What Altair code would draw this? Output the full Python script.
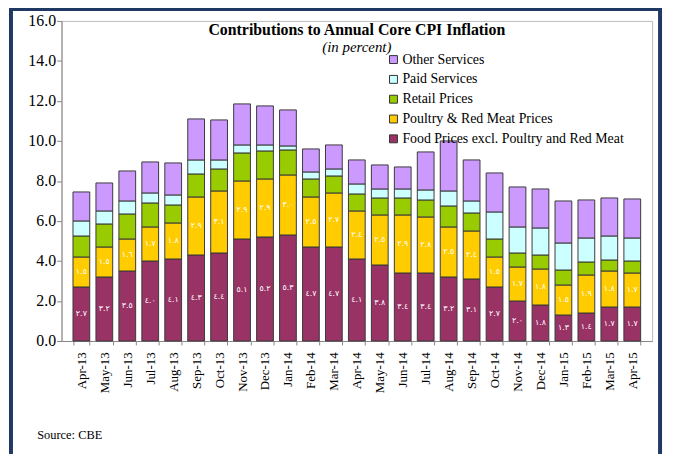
import altair as alt
import pandas as pd

months = ["Apr-13", "May-13", "Jun-13", "Jul-13", "Aug-13", "Sep-13", "Oct-13", "Nov-13",
          "Dec-13", "Jan-14", "Feb-14", "Mar-14", "Apr-14", "May-14", "Jun-14", "Jul-14",
          "Aug-14", "Sep-14", "Oct-14", "Nov-14", "Dec-14", "Jan-15", "Feb-15", "Mar-15", "Apr-15"]

food = [2.7, 3.2, 3.5, 4.0, 4.1, 4.3, 4.4, 5.1, 5.2, 5.3, 4.7, 4.7, 4.1, 3.8, 3.4, 3.4,
        3.2, 3.1, 2.7, 2.0, 1.8, 1.3, 1.4, 1.7, 1.7]
poultry = [1.5, 1.5, 1.6, 1.7, 1.8, 2.9, 3.1, 2.9, 2.9, 3.0, 2.5, 2.7, 2.4, 2.5, 2.9, 2.8,
           2.5, 2.4, 1.5, 1.7, 1.8, 1.5, 1.9, 1.8, 1.7]
retail = [1.05, 1.15, 1.25, 1.2, 0.9, 1.15, 1.1, 1.4, 1.4, 1.25, 0.9, 0.85, 0.85, 0.85, 0.85,
          0.85, 1.05, 0.9, 0.9, 0.7, 0.7, 0.75, 0.65, 0.55, 0.6]
paid = [0.75, 0.65, 0.65, 0.5, 0.5, 0.7, 0.45, 0.4, 0.3, 0.2, 0.35, 0.35, 0.5, 0.45, 0.45,
        0.5, 0.75, 0.6, 1.35, 1.3, 1.35, 1.35, 1.2, 1.2, 1.15]
other = [1.45, 1.4, 1.5, 1.55, 1.6, 2.05, 2.0, 2.05, 1.95, 1.8, 1.15, 1.2, 1.2, 1.2, 1.1,
         1.9, 2.5, 2.05, 1.95, 2.0, 1.95, 2.1, 1.9, 1.9, 1.95]

series_names = ["Food Prices excl. Poultry and Red Meat", "Poultry & Red Meat Prices",
                "Retail Prices", "Paid Services", "Other Services"]
series_values = [food, poultry, retail, paid, other]
series_colors = ["#993366", "#FFCC00", "#99CC00", "#CCFFFF", "#CC99FF"]
labelled_series = ["Food Prices excl. Poultry and Red Meat", "Poultry & Red Meat Prices"]

arabic_digits = str.maketrans("0123456789", "٠١٢٣٤٥٦٧٨٩")

rows = []
for k, (name, vals) in enumerate(zip(series_names, series_values)):
    for m, v in zip(months, vals):
        rows.append({"month": m, "series": name, "value": v, "order": k,
                     "label": f"{v:.1f}".translate(arabic_digits),
                     "show": name in labelled_series})
df = pd.DataFrame(rows)

serif = "Liberation Serif"
W, H = 596, 323

x_enc = alt.X("month:N", sort=months, scale=alt.Scale(paddingInner=0.27, paddingOuter=0.5),
              axis=alt.Axis(title="Source: CBE", titleFont=serif, titleFontSize=12.5,
                            titleFontWeight="normal", titleAnchor="start", titleAlign="left",
                            titleX=-25, titleY=98, titleBaseline="alphabetic",
                            labelAngle=270, labelFont=serif, labelFontSize=13,
                            labelColor="#000", labelPadding=7, tickBand="extent",
                            tickColor="#888", domainColor="#888", tickSize=4))

stacked = alt.Chart(df).transform_stack(
    stack="value", groupby=["month"],
    sort=[alt.SortField(field="order", order="ascending")], as_=["y0", "y1"])

bars = stacked.mark_bar(stroke="#3a3a3a", strokeWidth=1).encode(
    x=x_enc,
    y=alt.Y("y0:Q", scale=alt.Scale(domain=[0, 16], nice=False),
            axis=alt.Axis(values=[0, 2, 4, 6, 8, 10, 12, 14, 16], format=".1f", title=None,
                          labelFont=serif, labelFontSize=16, labelColor="#000",
                          grid=False, tickColor="#888", domainColor="#888", tickSize=5,
                          labelPadding=1)),
    y2="y1:Q",
    color=alt.Color("series:N",
                    scale=alt.Scale(domain=series_names[::-1], range=series_colors[::-1]),
                    legend=alt.Legend(title=None, orient="none", legendX=328, legendY=32,
                                      symbolType="square", symbolSize=64,
                                      symbolStrokeColor="#333", symbolStrokeWidth=1,
                                      labelFont=serif, labelFontSize=14, labelColor="#000",
                                      rowPadding=6, labelOffset=2, labelLimit=400)),
)

labels = stacked.transform_filter("datum.show").transform_calculate(
    mid="(datum.y0 + datum.y1) / 2").mark_text(
    color="white", font="DejaVu Sans", fontSize=8, baseline="middle").encode(
    x=alt.X("month:N", sort=months),
    y="mid:Q",
    text="label:N",
)

frame = alt.Chart(pd.DataFrame({"f": [0]})).mark_rect(
    filled=False, stroke="#1F3864", strokeWidth=4).encode(
    x=alt.value(-51), x2=alt.value(604), y=alt.value(-12), y2=alt.value(470))

chart = alt.layer(bars, labels, frame).properties(
    width=W, height=H,
    title=alt.TitleParams(text="Contributions to Annual Core CPI Inflation",
                          subtitle="(in percent)", font=serif, fontSize=16,
                          fontWeight="bold", color="#000", subtitleFont=serif,
                          subtitleFontSize=15, subtitleFontStyle="italic",
                          subtitleColor="#000", anchor="middle", dy=52, subtitlePadding=2),
    autosize=alt.AutoSizeParams(type="none"),
    padding={"left": 54, "top": 11, "right": 14, "bottom": 112},
).configure_view(stroke="#BBBBBB", strokeWidth=1)

chart.save("out.html", embed_options={"renderer": "svg", "actions": False})
